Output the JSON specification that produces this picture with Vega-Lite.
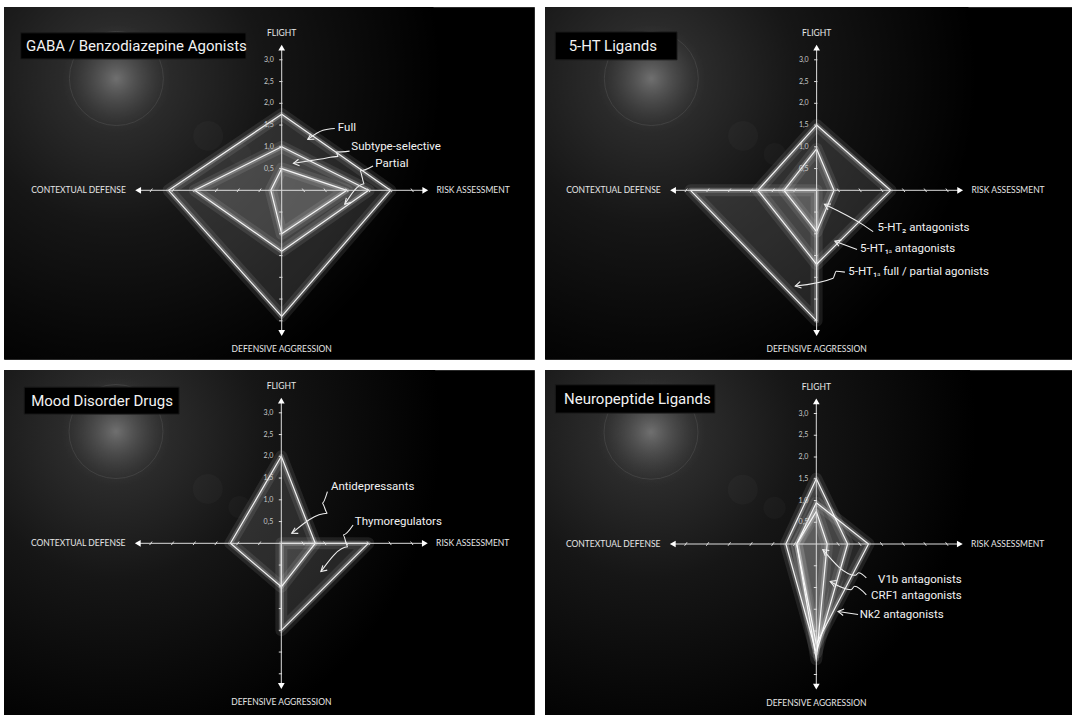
{
"$schema": "https://vega.github.io/schema/vega-lite/v6.json",
"background": "white",
"padding": {"left": 3, "top": 6, "right": 0, "bottom": 0},
"config": {"view": {"fill": "black", "stroke": "#2a2a2a", "strokeWidth": 1}, "axis": {"disable": true}},
"datasets": {
"polys": [
{"panel":"GABA","series":"Full","x":-2.6,"y":0,"y2":0},
{"panel":"GABA","series":"Full","x":0,"y":1.75,"y2":-2.9},
{"panel":"GABA","series":"Full","x":2.5,"y":0,"y2":0},
{"panel":"GABA","series":"Subtype-selective","x":-2.0,"y":0,"y2":0},
{"panel":"GABA","series":"Subtype-selective","x":0,"y":1.0,"y2":-1.4},
{"panel":"GABA","series":"Subtype-selective","x":2.0,"y":0,"y2":0},
{"panel":"GABA","series":"Partial","x":-0.25,"y":0,"y2":0},
{"panel":"GABA","series":"Partial","x":0,"y":0.5,"y2":-1.0},
{"panel":"GABA","series":"Partial","x":1.5,"y":0,"y2":0},
{"panel":"5HT","series":"5-HT1A full/partial agonists","x":-2.9,"y":0,"y2":0},
{"panel":"5HT","series":"5-HT1A full/partial agonists","x":0,"y":0,"y2":-3.0},
{"panel":"5HT","series":"5-HT1A antagonists","x":-1.35,"y":0,"y2":0},
{"panel":"5HT","series":"5-HT1A antagonists","x":0,"y":1.5,"y2":-1.7},
{"panel":"5HT","series":"5-HT1A antagonists","x":1.7,"y":0,"y2":0},
{"panel":"5HT","series":"5-HT2 antagonists","x":-0.75,"y":0,"y2":0},
{"panel":"5HT","series":"5-HT2 antagonists","x":0,"y":0.95,"y2":-0.95},
{"panel":"5HT","series":"5-HT2 antagonists","x":0.4,"y":0,"y2":0},
{"panel":"Mood","series":"Antidepressants","x":-1.17,"y":0,"y2":0},
{"panel":"Mood","series":"Antidepressants","x":0,"y":2.0,"y2":-1.0},
{"panel":"Mood","series":"Antidepressants","x":0.78,"y":0,"y2":0},
{"panel":"Mood","series":"Thymoregulators","x":0,"y":0,"y2":-2.0},
{"panel":"Mood","series":"Thymoregulators","x":2.0,"y":0,"y2":0},
{"panel":"Neuro","series":"CRF1","x":-0.7,"y":0,"y2":0},
{"panel":"Neuro","series":"CRF1","x":0,"y":1.5,"y2":-2.5},
{"panel":"Neuro","series":"CRF1","x":0.72,"y":0,"y2":0},
{"panel":"Neuro","series":"Nk2","x":-0.45,"y":0,"y2":0},
{"panel":"Neuro","series":"Nk2","x":0,"y":0.95,"y2":-2.3},
{"panel":"Neuro","series":"Nk2","x":1.2,"y":0,"y2":0},
{"panel":"Neuro","series":"V1b","x":-0.45,"y":0,"y2":0},
{"panel":"Neuro","series":"V1b","x":0,"y":0.75,"y2":-2.65},
{"panel":"Neuro","series":"V1b","x":0.25,"y":0,"y2":0}
],
"titles": [
{"panel":"GABA","title":"GABA / Benzodiazepine Agonists"},
{"panel":"5HT","title":"5-HT Ligands"},
{"panel":"Mood","title":"Mood Disorder Drugs"},
{"panel":"Neuro","title":"Neuropeptide Ligands"}
],
"notes": [
{"panel":"GABA","text":"Full","x":1.29,"y":1.43},
{"panel":"GABA","text":"Subtype-selective","x":1.6,"y":0.99},
{"panel":"GABA","text":"Partial","x":2.15,"y":0.6},
{"panel":"5HT","text":"5-HT₂ antagonists","x":1.4,"y":-0.86},
{"panel":"5HT","text":"5-HT₁ₐ antagonists","x":1.0,"y":-1.36},
{"panel":"5HT","text":"5-HT₁ₐ full / partial agonists","x":0.73,"y":-1.87},
{"panel":"Mood","text":"Antidepressants","x":1.14,"y":1.3},
{"panel":"Mood","text":"Thymoregulators","x":1.69,"y":0.5},
{"panel":"Neuro","text":"V1b antagonists","x":1.42,"y":-0.82},
{"panel":"Neuro","text":"CRF1 antagonists","x":1.26,"y":-1.2},
{"panel":"Neuro","text":"Nk2 antagonists","x":1.0,"y":-1.64}
],
"arrows": [
{"panel":"GABA","id":"a1","i":1,"x":1.22,"y":1.42},{"panel":"GABA","id":"a1","i":2,"x":0.95,"y":1.38},{"panel":"GABA","id":"a1","i":3,"x":0.6,"y":1.17},
{"panel":"GABA","id":"a2","i":1,"x":1.56,"y":0.9},{"panel":"GABA","id":"a2","i":2,"x":1.25,"y":0.88},{"panel":"GABA","id":"a2","i":3,"x":1.3,"y":0.78},{"panel":"GABA","id":"a2","i":4,"x":0.9,"y":0.72},{"panel":"GABA","id":"a2","i":5,"x":0.27,"y":0.62},
{"panel":"GABA","id":"a3","i":1,"x":2.1,"y":0.56},{"panel":"GABA","id":"a3","i":2,"x":1.8,"y":0.45},{"panel":"GABA","id":"a3","i":3,"x":1.9,"y":0.15},{"panel":"GABA","id":"a3","i":4,"x":1.45,"y":-0.32},
{"panel":"5HT","id":"b1","i":1,"x":1.3,"y":-0.95},{"panel":"5HT","id":"b1","i":2,"x":1.08,"y":-0.8},{"panel":"5HT","id":"b1","i":3,"x":0.18,"y":-0.32},
{"panel":"5HT","id":"b2","i":1,"x":0.93,"y":-1.36},{"panel":"5HT","id":"b2","i":2,"x":0.42,"y":-1.17},
{"panel":"5HT","id":"b3","i":1,"x":0.65,"y":-1.88},{"panel":"5HT","id":"b3","i":2,"x":0.45,"y":-1.86},{"panel":"5HT","id":"b3","i":3,"x":0.38,"y":-2.02},{"panel":"5HT","id":"b3","i":4,"x":-0.49,"y":-2.2},
{"panel":"Mood","id":"c1","i":1,"x":1.06,"y":1.19},{"panel":"Mood","id":"c1","i":2,"x":0.94,"y":0.92},{"panel":"Mood","id":"c1","i":3,"x":1.06,"y":0.69},{"panel":"Mood","id":"c1","i":4,"x":0.24,"y":0.23},
{"panel":"Mood","id":"c2","i":1,"x":1.65,"y":0.42},{"panel":"Mood","id":"c2","i":2,"x":1.42,"y":0.19},{"panel":"Mood","id":"c2","i":3,"x":1.53,"y":-0.08},{"panel":"Mood","id":"c2","i":4,"x":0.91,"y":-0.65},
{"panel":"Neuro","id":"d1","i":1,"x":1.15,"y":-0.78},{"panel":"Neuro","id":"d1","i":2,"x":0.97,"y":-0.66},{"panel":"Neuro","id":"d1","i":3,"x":0.9,"y":-0.72},{"panel":"Neuro","id":"d1","i":4,"x":0.15,"y":-0.13},
{"panel":"Neuro","id":"d2","i":1,"x":1.15,"y":-1.17},{"panel":"Neuro","id":"d2","i":2,"x":0.88,"y":-0.97},{"panel":"Neuro","id":"d2","i":3,"x":0.8,"y":-1.05},{"panel":"Neuro","id":"d2","i":4,"x":0.32,"y":-0.86},
{"panel":"Neuro","id":"d3","i":1,"x":0.96,"y":-1.62},{"panel":"Neuro","id":"d3","i":2,"x":0.5,"y":-1.55}
],
"heads": [
{"panel":"GABA","id":"a1","i":1,"x":0.673,"y":1.301},{"panel":"GABA","id":"a1","i":2,"x":0.6,"y":1.17},{"panel":"GABA","id":"a1","i":3,"x":0.75,"y":1.173},
{"panel":"GABA","id":"a2","i":1,"x":0.387,"y":0.715},{"panel":"GABA","id":"a2","i":2,"x":0.27,"y":0.62},{"panel":"GABA","id":"a2","i":3,"x":0.41,"y":0.566},
{"panel":"GABA","id":"a3","i":1,"x":1.486,"y":-0.174},{"panel":"GABA","id":"a3","i":2,"x":1.45,"y":-0.32},{"panel":"GABA","id":"a3","i":3,"x":1.594,"y":-0.278},
{"panel":"5HT","id":"b1","i":1,"x":0.33,"y":-0.315},{"panel":"5HT","id":"b1","i":2,"x":0.18,"y":-0.32},{"panel":"5HT","id":"b1","i":3,"x":0.259,"y":-0.447},
{"panel":"5HT","id":"b2","i":1,"x":0.568,"y":-1.145},{"panel":"5HT","id":"b2","i":2,"x":0.42,"y":-1.17},{"panel":"5HT","id":"b2","i":3,"x":0.515,"y":-1.286},
{"panel":"5HT","id":"b3","i":1,"x":-0.378,"y":-2.1},{"panel":"5HT","id":"b3","i":2,"x":-0.49,"y":-2.2},{"panel":"5HT","id":"b3","i":3,"x":-0.347,"y":-2.247},
{"panel":"Mood","id":"c1","i":1,"x":0.317,"y":0.359},{"panel":"Mood","id":"c1","i":2,"x":0.24,"y":0.23},{"panel":"Mood","id":"c1","i":3,"x":0.39,"y":0.228},
{"panel":"Mood","id":"c2","i":1,"x":0.955,"y":-0.507},{"panel":"Mood","id":"c2","i":2,"x":0.91,"y":-0.65},{"panel":"Mood","id":"c2","i":3,"x":1.056,"y":-0.617},
{"panel":"Neuro","id":"d1","i":1,"x":0.299,"y":-0.151},{"panel":"Neuro","id":"d1","i":2,"x":0.15,"y":-0.13},{"panel":"Neuro","id":"d1","i":3,"x":0.206,"y":-0.269},
{"panel":"Neuro","id":"d2","i":1,"x":0.468,"y":-0.838},{"panel":"Neuro","id":"d2","i":2,"x":0.32,"y":-0.86},{"panel":"Neuro","id":"d2","i":3,"x":0.413,"y":-0.978},
{"panel":"Neuro","id":"d3","i":1,"x":0.64,"y":-1.495},{"panel":"Neuro","id":"d3","i":2,"x":0.5,"y":-1.55},{"panel":"Neuro","id":"d3","i":3,"x":0.617,"y":-1.644}
],
"hticks": [{"x":-3},{"x":-2.5},{"x":-2},{"x":-1.5},{"x":-1},{"x":-0.5},{"x":0.5},{"x":1},{"x":1.5},{"x":2},{"x":2.5},{"x":3}],
"vticks": [{"y":3},{"y":2.5},{"y":2},{"y":1.5},{"y":1},{"y":0.5},{"y":-0.5},{"y":-1},{"y":-1.5},{"y":-2},{"y":-2.5},{"y":-3}],
"vlabels": [{"y":3,"t":"3,0"},{"y":2.5,"t":"2,5"},{"y":2,"t":"2,0"},{"y":1.5,"t":"1,5"},{"y":1,"t":"1,0"},{"y":0.5,"t":"0,5"}],
"axarrows": [{"dir":"up","x":0,"y":3.28},{"dir":"down","x":0,"y":-3.28},{"dir":"left","x":-3.3,"y":0},{"dir":"right","x":3.3,"y":0}],
"axlabels": [{"label":"FLIGHT","x":0,"y":3.62},{"label":"DEFENSIVE AGGRESSION","x":0,"y":-3.65},{"label":"CONTEXTUAL DEFENSE","x":-4.67,"y":0},{"label":"RISK ASSESSMENT","x":4.4,"y":0}]
},
"vconcat": [
{"hconcat": [
{"width": 530, "height": 352, "layer": [
{"data":{"values":[{}]},"mark":{"type":"point","shape":"circle","size":422500,"filled":true,"opacity":1,"strokeWidth":0,"clip":true,"fill":{"gradient":"radial","stops":[{"offset":0,"color":"#363636"},{"offset":0.45,"color":"#161616"},{"offset":1,"color":"#000000"}]}},"encoding":{"x":{"datum":-3.8,"type":"quantitative","scale":{"domain":[-6.384,5.8],"nice":false,"zero":false},"axis":null},"y":{"datum":2.57,"type":"quantitative","scale":{"domain":[-3.878,4.214],"nice":false,"zero":false},"axis":null}}},
{"data":{"values":[{}]},"mark":{"type":"point","shape":"circle","size":12000,"filled":true,"opacity":1,"strokeWidth":0,"fill":{"gradient":"radial","stops":[{"offset":0,"color":"rgba(115,115,115,0.95)"},{"offset":0.55,"color":"rgba(85,85,85,0.45)"},{"offset":1,"color":"rgba(60,60,60,0)"}]}},"encoding":{"x":{"datum":-3.8},"y":{"datum":2.57}}},
{"data":{"values":[{}]},"mark":{"type":"point","shape":"circle","size":8836,"filled":false,"stroke":"#6a6a6a","strokeWidth":1,"opacity":0.3},"encoding":{"x":{"datum":-3.8},"y":{"datum":2.57}}},
{"data":{"values":[{}]},"mark":{"type":"point","shape":"circle","size":900,"filled":true,"color":"#ffffff","opacity":0.025},"encoding":{"x":{"datum":-1.69},"y":{"datum":1.25}}},
{"data":{"values":[{}]},"mark":{"type":"point","shape":"circle","size":500,"filled":true,"color":"#ffffff","opacity":0.025},"encoding":{"x":{"datum":-0.96},"y":{"datum":0.83}}},
{"data":{"values":[{}]},"mark":{"type":"rect","fill":"#000000","stroke":"#1a1a1a"},"encoding":{"x":{"datum":-6.0},"x2":{"datum":-0.82},"y":{"datum":3.62},"y2":{"datum":3.02}}},
{"data":{"name":"titles"},"transform":[{"filter":"datum.panel==='GABA'"}],"mark":{"type":"text","align":"left","baseline":"middle","font":"Roboto","fontSize":15,"color":"#f2f2f2"},"encoding":{"x":{"datum":-5.88},"y":{"datum":3.32},"text":{"field":"title"}}},
{"data":{"name":"polys"},"transform":[{"filter":"datum.panel==='GABA'"}],"mark":{"type":"area","interpolate":"linear","fill":"#ffffff","fillOpacity":0.12,"stroke":"#ffffff","strokeOpacity":0.09,"strokeWidth":12,"strokeJoin":"round"},"encoding":{"x":{"field":"x","type":"quantitative"},"y":{"field":"y","type":"quantitative","stack":null},"y2":{"field":"y2"},"detail":{"field":"series"}}},
{"data":{"name":"polys"},"transform":[{"filter":"datum.panel==='GABA'"}],"mark":{"type":"area","interpolate":"linear","fillOpacity":0,"stroke":"#ffffff","strokeOpacity":0.22,"strokeWidth":5,"strokeJoin":"round"},"encoding":{"x":{"field":"x","type":"quantitative"},"y":{"field":"y","type":"quantitative","stack":null},"y2":{"field":"y2"},"detail":{"field":"series"}}},
{"data":{"name":"polys"},"transform":[{"filter":"datum.panel==='GABA'"}],"mark":{"type":"area","interpolate":"linear","fillOpacity":0,"stroke":"#ffffff","strokeOpacity":0.92,"strokeWidth":1.2,"strokeJoin":"round"},"encoding":{"x":{"field":"x","type":"quantitative"},"y":{"field":"y","type":"quantitative","stack":null},"y2":{"field":"y2"},"detail":{"field":"series"}}},
{"data":{"values":[{}]},"mark":{"type":"rule","color":"#dddddd","strokeWidth":1},"encoding":{"x":{"datum":-3.3},"x2":{"datum":3.3},"y":{"datum":0}}},
{"data":{"values":[{}]},"mark":{"type":"rule","color":"#dddddd","strokeWidth":1},"encoding":{"y":{"datum":-3.3},"y2":{"datum":3.3},"x":{"datum":0}}},
{"data":{"name":"hticks"},"transform":[{"filter":"datum.x<0"}],"mark":{"type":"point","shape":"M-0.35,0.5L0.35,-0.5","size":49,"filled":false,"stroke":"#dddddd","strokeWidth":1,"opacity":1},"encoding":{"x":{"field":"x","type":"quantitative"},"y":{"datum":0}}},
{"data":{"name":"hticks"},"transform":[{"filter":"datum.x>0"}],"mark":{"type":"point","shape":"M-0.35,-0.5L0.35,0.5","size":49,"filled":false,"stroke":"#dddddd","strokeWidth":1,"opacity":1},"encoding":{"x":{"field":"x","type":"quantitative"},"y":{"datum":0}}},
{"data":{"name":"vticks"},"mark":{"type":"point","shape":"M-1,0L0.3,0","size":25,"filled":false,"stroke":"#dddddd","strokeWidth":1,"opacity":1},"encoding":{"y":{"field":"y","type":"quantitative"},"x":{"datum":0}}},
{"data":{"name":"vlabels"},"mark":{"type":"text","align":"right","baseline":"middle","dx":-8,"font":"Lato","fontSize":7,"color":"#c8c8c8"},"encoding":{"y":{"field":"y","type":"quantitative"},"x":{"datum":0},"text":{"field":"t"}}},
{"data":{"name":"axarrows"},"mark":{"type":"point","filled":true,"size":45,"color":"#ffffff","opacity":1},"encoding":{"x":{"field":"x","type":"quantitative"},"y":{"field":"y","type":"quantitative"},"shape":{"field":"dir","scale":{"domain":["up","down","left","right"],"range":["triangle-up","triangle-down","triangle-left","triangle-right"]},"legend":null}}},
{"data":{"name":"axlabels"},"mark":{"type":"text","align":"center","baseline":"middle","font":"Lato","fontSize":8.5,"color":"#e6e6e6"},"encoding":{"x":{"field":"x","type":"quantitative"},"y":{"field":"y","type":"quantitative"},"text":{"field":"label"}}},
{"data":{"name":"arrows"},"transform":[{"filter":"datum.panel==='GABA'"}],"mark":{"type":"line","color":"#eeeeee","strokeWidth":1.1,"interpolate":"monotone"},"encoding":{"x":{"field":"x","type":"quantitative"},"y":{"field":"y","type":"quantitative"},"detail":{"field":"id"},"order":{"field":"i"}}},
{"data":{"name":"heads"},"transform":[{"filter":"datum.panel==='GABA'"}],"mark":{"type":"line","color":"#eeeeee","strokeWidth":1.1,"interpolate":"linear"},"encoding":{"x":{"field":"x","type":"quantitative"},"y":{"field":"y","type":"quantitative"},"detail":{"field":"id"},"order":{"field":"i"}}},
{"data":{"name":"notes"},"transform":[{"filter":"datum.panel==='GABA'"}],"mark":{"type":"text","align":"left","baseline":"middle","font":"Roboto","fontSize":11.5,"color":"#f2f2f2"},"encoding":{"x":{"field":"x","type":"quantitative"},"y":{"field":"y","type":"quantitative"},"text":{"field":"text"}}}
]},
{"width": 530, "height": 352, "layer": [
{"data":{"values":[{}]},"mark":{"type":"point","shape":"circle","size":422500,"filled":true,"opacity":1,"strokeWidth":0,"clip":true,"fill":{"gradient":"radial","stops":[{"offset":0,"color":"#363636"},{"offset":0.45,"color":"#161616"},{"offset":1,"color":"#000000"}]}},"encoding":{"x":{"datum":-3.8,"type":"quantitative","scale":{"domain":[-6.244,5.94],"nice":false,"zero":false},"axis":null},"y":{"datum":2.57,"type":"quantitative","scale":{"domain":[-3.878,4.214],"nice":false,"zero":false},"axis":null}}},
{"data":{"values":[{}]},"mark":{"type":"point","shape":"circle","size":12000,"filled":true,"opacity":1,"strokeWidth":0,"fill":{"gradient":"radial","stops":[{"offset":0,"color":"rgba(115,115,115,0.95)"},{"offset":0.55,"color":"rgba(85,85,85,0.45)"},{"offset":1,"color":"rgba(60,60,60,0)"}]}},"encoding":{"x":{"datum":-3.8},"y":{"datum":2.57}}},
{"data":{"values":[{}]},"mark":{"type":"point","shape":"circle","size":8836,"filled":false,"stroke":"#6a6a6a","strokeWidth":1,"opacity":0.3},"encoding":{"x":{"datum":-3.8},"y":{"datum":2.57}}},
{"data":{"values":[{}]},"mark":{"type":"point","shape":"circle","size":900,"filled":true,"color":"#ffffff","opacity":0.025},"encoding":{"x":{"datum":-1.69},"y":{"datum":1.25}}},
{"data":{"values":[{}]},"mark":{"type":"point","shape":"circle","size":500,"filled":true,"color":"#ffffff","opacity":0.025},"encoding":{"x":{"datum":-0.96},"y":{"datum":0.83}}},
{"data":{"values":[{}]},"mark":{"type":"rect","fill":"#000000","stroke":"#1a1a1a"},"encoding":{"x":{"datum":-6.01},"x2":{"datum":-3.21},"y":{"datum":3.64},"y2":{"datum":3.0}}},
{"data":{"name":"titles"},"transform":[{"filter":"datum.panel==='5HT'"}],"mark":{"type":"text","align":"left","baseline":"middle","font":"Roboto","fontSize":15,"color":"#f2f2f2"},"encoding":{"x":{"datum":-5.7},"y":{"datum":3.32},"text":{"field":"title"}}},
{"data":{"name":"polys"},"transform":[{"filter":"datum.panel==='5HT'"}],"mark":{"type":"area","interpolate":"linear","fill":"#ffffff","fillOpacity":0.12,"stroke":"#ffffff","strokeOpacity":0.09,"strokeWidth":12,"strokeJoin":"round"},"encoding":{"x":{"field":"x","type":"quantitative"},"y":{"field":"y","type":"quantitative","stack":null},"y2":{"field":"y2"},"detail":{"field":"series"}}},
{"data":{"name":"polys"},"transform":[{"filter":"datum.panel==='5HT'"}],"mark":{"type":"area","interpolate":"linear","fillOpacity":0,"stroke":"#ffffff","strokeOpacity":0.22,"strokeWidth":5,"strokeJoin":"round"},"encoding":{"x":{"field":"x","type":"quantitative"},"y":{"field":"y","type":"quantitative","stack":null},"y2":{"field":"y2"},"detail":{"field":"series"}}},
{"data":{"name":"polys"},"transform":[{"filter":"datum.panel==='5HT'"}],"mark":{"type":"area","interpolate":"linear","fillOpacity":0,"stroke":"#ffffff","strokeOpacity":0.92,"strokeWidth":1.2,"strokeJoin":"round"},"encoding":{"x":{"field":"x","type":"quantitative"},"y":{"field":"y","type":"quantitative","stack":null},"y2":{"field":"y2"},"detail":{"field":"series"}}},
{"data":{"values":[{}]},"mark":{"type":"rule","color":"#dddddd","strokeWidth":1},"encoding":{"x":{"datum":-3.3},"x2":{"datum":3.3},"y":{"datum":0}}},
{"data":{"values":[{}]},"mark":{"type":"rule","color":"#dddddd","strokeWidth":1},"encoding":{"y":{"datum":-3.3},"y2":{"datum":3.3},"x":{"datum":0}}},
{"data":{"name":"hticks"},"transform":[{"filter":"datum.x<0"}],"mark":{"type":"point","shape":"M-0.35,0.5L0.35,-0.5","size":49,"filled":false,"stroke":"#dddddd","strokeWidth":1,"opacity":1},"encoding":{"x":{"field":"x","type":"quantitative"},"y":{"datum":0}}},
{"data":{"name":"hticks"},"transform":[{"filter":"datum.x>0"}],"mark":{"type":"point","shape":"M-0.35,-0.5L0.35,0.5","size":49,"filled":false,"stroke":"#dddddd","strokeWidth":1,"opacity":1},"encoding":{"x":{"field":"x","type":"quantitative"},"y":{"datum":0}}},
{"data":{"name":"vticks"},"mark":{"type":"point","shape":"M-1,0L0.3,0","size":25,"filled":false,"stroke":"#dddddd","strokeWidth":1,"opacity":1},"encoding":{"y":{"field":"y","type":"quantitative"},"x":{"datum":0}}},
{"data":{"name":"vlabels"},"mark":{"type":"text","align":"right","baseline":"middle","dx":-8,"font":"Lato","fontSize":7,"color":"#c8c8c8"},"encoding":{"y":{"field":"y","type":"quantitative"},"x":{"datum":0},"text":{"field":"t"}}},
{"data":{"name":"axarrows"},"mark":{"type":"point","filled":true,"size":45,"color":"#ffffff","opacity":1},"encoding":{"x":{"field":"x","type":"quantitative"},"y":{"field":"y","type":"quantitative"},"shape":{"field":"dir","scale":{"domain":["up","down","left","right"],"range":["triangle-up","triangle-down","triangle-left","triangle-right"]},"legend":null}}},
{"data":{"name":"axlabels"},"mark":{"type":"text","align":"center","baseline":"middle","font":"Lato","fontSize":8.5,"color":"#e6e6e6"},"encoding":{"x":{"field":"x","type":"quantitative"},"y":{"field":"y","type":"quantitative"},"text":{"field":"label"}}},
{"data":{"name":"arrows"},"transform":[{"filter":"datum.panel==='5HT'"}],"mark":{"type":"line","color":"#eeeeee","strokeWidth":1.1,"interpolate":"monotone"},"encoding":{"x":{"field":"x","type":"quantitative"},"y":{"field":"y","type":"quantitative"},"detail":{"field":"id"},"order":{"field":"i"}}},
{"data":{"name":"heads"},"transform":[{"filter":"datum.panel==='5HT'"}],"mark":{"type":"line","color":"#eeeeee","strokeWidth":1.1,"interpolate":"linear"},"encoding":{"x":{"field":"x","type":"quantitative"},"y":{"field":"y","type":"quantitative"},"detail":{"field":"id"},"order":{"field":"i"}}},
{"data":{"name":"notes"},"transform":[{"filter":"datum.panel==='5HT'"}],"mark":{"type":"text","align":"left","baseline":"middle","font":"Roboto","fontSize":11.5,"color":"#f2f2f2"},"encoding":{"x":{"field":"x","type":"quantitative"},"y":{"field":"y","type":"quantitative"},"text":{"field":"text"}}}
]}
], "spacing": 9},
{"hconcat": [
{"width": 530, "height": 348, "layer": [
{"data":{"values":[{}]},"mark":{"type":"point","shape":"circle","size":422500,"filled":true,"opacity":1,"strokeWidth":0,"clip":true,"fill":{"gradient":"radial","stops":[{"offset":0,"color":"#363636"},{"offset":0.45,"color":"#161616"},{"offset":1,"color":"#000000"}]}},"encoding":{"x":{"datum":-3.8,"type":"quantitative","scale":{"domain":[-6.375,5.809],"nice":false,"zero":false},"axis":null},"y":{"datum":2.57,"type":"quantitative","scale":{"domain":[-4.016,3.984],"nice":false,"zero":false},"axis":null}}},
{"data":{"values":[{}]},"mark":{"type":"point","shape":"circle","size":12000,"filled":true,"opacity":1,"strokeWidth":0,"fill":{"gradient":"radial","stops":[{"offset":0,"color":"rgba(115,115,115,0.95)"},{"offset":0.55,"color":"rgba(85,85,85,0.45)"},{"offset":1,"color":"rgba(60,60,60,0)"}]}},"encoding":{"x":{"datum":-3.8},"y":{"datum":2.57}}},
{"data":{"values":[{}]},"mark":{"type":"point","shape":"circle","size":8836,"filled":false,"stroke":"#6a6a6a","strokeWidth":1,"opacity":0.3},"encoding":{"x":{"datum":-3.8},"y":{"datum":2.57}}},
{"data":{"values":[{}]},"mark":{"type":"point","shape":"circle","size":900,"filled":true,"color":"#ffffff","opacity":0.025},"encoding":{"x":{"datum":-1.69},"y":{"datum":1.25}}},
{"data":{"values":[{}]},"mark":{"type":"point","shape":"circle","size":500,"filled":true,"color":"#ffffff","opacity":0.025},"encoding":{"x":{"datum":-0.96},"y":{"datum":0.83}}},
{"data":{"values":[{}]},"mark":{"type":"rect","fill":"#000000","stroke":"#1a1a1a"},"encoding":{"x":{"datum":-5.91},"x2":{"datum":-2.35},"y":{"datum":3.59},"y2":{"datum":2.97}}},
{"data":{"name":"titles"},"transform":[{"filter":"datum.panel==='Mood'"}],"mark":{"type":"text","align":"left","baseline":"middle","font":"Roboto","fontSize":15,"color":"#f2f2f2"},"encoding":{"x":{"datum":-5.75},"y":{"datum":3.28},"text":{"field":"title"}}},
{"data":{"name":"polys"},"transform":[{"filter":"datum.panel==='Mood'"}],"mark":{"type":"area","interpolate":"linear","fill":"#ffffff","fillOpacity":0.12,"stroke":"#ffffff","strokeOpacity":0.09,"strokeWidth":12,"strokeJoin":"round"},"encoding":{"x":{"field":"x","type":"quantitative"},"y":{"field":"y","type":"quantitative","stack":null},"y2":{"field":"y2"},"detail":{"field":"series"}}},
{"data":{"name":"polys"},"transform":[{"filter":"datum.panel==='Mood'"}],"mark":{"type":"area","interpolate":"linear","fillOpacity":0,"stroke":"#ffffff","strokeOpacity":0.22,"strokeWidth":5,"strokeJoin":"round"},"encoding":{"x":{"field":"x","type":"quantitative"},"y":{"field":"y","type":"quantitative","stack":null},"y2":{"field":"y2"},"detail":{"field":"series"}}},
{"data":{"name":"polys"},"transform":[{"filter":"datum.panel==='Mood'"}],"mark":{"type":"area","interpolate":"linear","fillOpacity":0,"stroke":"#ffffff","strokeOpacity":0.92,"strokeWidth":1.2,"strokeJoin":"round"},"encoding":{"x":{"field":"x","type":"quantitative"},"y":{"field":"y","type":"quantitative","stack":null},"y2":{"field":"y2"},"detail":{"field":"series"}}},
{"data":{"values":[{}]},"mark":{"type":"rule","color":"#dddddd","strokeWidth":1},"encoding":{"x":{"datum":-3.3},"x2":{"datum":3.3},"y":{"datum":0}}},
{"data":{"values":[{}]},"mark":{"type":"rule","color":"#dddddd","strokeWidth":1},"encoding":{"y":{"datum":-3.3},"y2":{"datum":3.3},"x":{"datum":0}}},
{"data":{"name":"hticks"},"transform":[{"filter":"datum.x<0"}],"mark":{"type":"point","shape":"M-0.35,0.5L0.35,-0.5","size":49,"filled":false,"stroke":"#dddddd","strokeWidth":1,"opacity":1},"encoding":{"x":{"field":"x","type":"quantitative"},"y":{"datum":0}}},
{"data":{"name":"hticks"},"transform":[{"filter":"datum.x>0"}],"mark":{"type":"point","shape":"M-0.35,-0.5L0.35,0.5","size":49,"filled":false,"stroke":"#dddddd","strokeWidth":1,"opacity":1},"encoding":{"x":{"field":"x","type":"quantitative"},"y":{"datum":0}}},
{"data":{"name":"vticks"},"mark":{"type":"point","shape":"M-1,0L0.3,0","size":25,"filled":false,"stroke":"#dddddd","strokeWidth":1,"opacity":1},"encoding":{"y":{"field":"y","type":"quantitative"},"x":{"datum":0}}},
{"data":{"name":"vlabels"},"mark":{"type":"text","align":"right","baseline":"middle","dx":-8,"font":"Lato","fontSize":7,"color":"#c8c8c8"},"encoding":{"y":{"field":"y","type":"quantitative"},"x":{"datum":0},"text":{"field":"t"}}},
{"data":{"name":"axarrows"},"mark":{"type":"point","filled":true,"size":45,"color":"#ffffff","opacity":1},"encoding":{"x":{"field":"x","type":"quantitative"},"y":{"field":"y","type":"quantitative"},"shape":{"field":"dir","scale":{"domain":["up","down","left","right"],"range":["triangle-up","triangle-down","triangle-left","triangle-right"]},"legend":null}}},
{"data":{"name":"axlabels"},"mark":{"type":"text","align":"center","baseline":"middle","font":"Lato","fontSize":8.5,"color":"#e6e6e6"},"encoding":{"x":{"field":"x","type":"quantitative"},"y":{"field":"y","type":"quantitative"},"text":{"field":"label"}}},
{"data":{"name":"arrows"},"transform":[{"filter":"datum.panel==='Mood'"}],"mark":{"type":"line","color":"#eeeeee","strokeWidth":1.1,"interpolate":"monotone"},"encoding":{"x":{"field":"x","type":"quantitative"},"y":{"field":"y","type":"quantitative"},"detail":{"field":"id"},"order":{"field":"i"}}},
{"data":{"name":"heads"},"transform":[{"filter":"datum.panel==='Mood'"}],"mark":{"type":"line","color":"#eeeeee","strokeWidth":1.1,"interpolate":"linear"},"encoding":{"x":{"field":"x","type":"quantitative"},"y":{"field":"y","type":"quantitative"},"detail":{"field":"id"},"order":{"field":"i"}}},
{"data":{"name":"notes"},"transform":[{"filter":"datum.panel==='Mood'"}],"mark":{"type":"text","align":"left","baseline":"middle","font":"Roboto","fontSize":11.5,"color":"#f2f2f2"},"encoding":{"x":{"field":"x","type":"quantitative"},"y":{"field":"y","type":"quantitative"},"text":{"field":"text"}}}
]},
{"width": 530, "height": 348, "layer": [
{"data":{"values":[{}]},"mark":{"type":"point","shape":"circle","size":422500,"filled":true,"opacity":1,"strokeWidth":0,"clip":true,"fill":{"gradient":"radial","stops":[{"offset":0,"color":"#363636"},{"offset":0.45,"color":"#161616"},{"offset":1,"color":"#000000"}]}},"encoding":{"x":{"datum":-3.8,"type":"quantitative","scale":{"domain":[-6.237,5.947],"nice":false,"zero":false},"axis":null},"y":{"datum":2.57,"type":"quantitative","scale":{"domain":[-4.0,4.0],"nice":false,"zero":false},"axis":null}}},
{"data":{"values":[{}]},"mark":{"type":"point","shape":"circle","size":12000,"filled":true,"opacity":1,"strokeWidth":0,"fill":{"gradient":"radial","stops":[{"offset":0,"color":"rgba(115,115,115,0.95)"},{"offset":0.55,"color":"rgba(85,85,85,0.45)"},{"offset":1,"color":"rgba(60,60,60,0)"}]}},"encoding":{"x":{"datum":-3.8},"y":{"datum":2.57}}},
{"data":{"values":[{}]},"mark":{"type":"point","shape":"circle","size":8836,"filled":false,"stroke":"#6a6a6a","strokeWidth":1,"opacity":0.3},"encoding":{"x":{"datum":-3.8},"y":{"datum":2.57}}},
{"data":{"values":[{}]},"mark":{"type":"point","shape":"circle","size":900,"filled":true,"color":"#ffffff","opacity":0.025},"encoding":{"x":{"datum":-1.69},"y":{"datum":1.25}}},
{"data":{"values":[{}]},"mark":{"type":"point","shape":"circle","size":500,"filled":true,"color":"#ffffff","opacity":0.025},"encoding":{"x":{"datum":-0.96},"y":{"datum":0.83}}},
{"data":{"values":[{}]},"mark":{"type":"rect","fill":"#000000","stroke":"#1a1a1a"},"encoding":{"x":{"datum":-6.0},"x2":{"datum":-2.33},"y":{"datum":3.66},"y2":{"datum":3.01}}},
{"data":{"name":"titles"},"transform":[{"filter":"datum.panel==='Neuro'"}],"mark":{"type":"text","align":"left","baseline":"middle","font":"Roboto","fontSize":15,"color":"#f2f2f2"},"encoding":{"x":{"datum":-5.8},"y":{"datum":3.33},"text":{"field":"title"}}},
{"data":{"name":"polys"},"transform":[{"filter":"datum.panel==='Neuro'"}],"mark":{"type":"area","interpolate":"linear","fill":"#ffffff","fillOpacity":0.12,"stroke":"#ffffff","strokeOpacity":0.09,"strokeWidth":12,"strokeJoin":"round"},"encoding":{"x":{"field":"x","type":"quantitative"},"y":{"field":"y","type":"quantitative","stack":null},"y2":{"field":"y2"},"detail":{"field":"series"}}},
{"data":{"name":"polys"},"transform":[{"filter":"datum.panel==='Neuro'"}],"mark":{"type":"area","interpolate":"linear","fillOpacity":0,"stroke":"#ffffff","strokeOpacity":0.22,"strokeWidth":5,"strokeJoin":"round"},"encoding":{"x":{"field":"x","type":"quantitative"},"y":{"field":"y","type":"quantitative","stack":null},"y2":{"field":"y2"},"detail":{"field":"series"}}},
{"data":{"name":"polys"},"transform":[{"filter":"datum.panel==='Neuro'"}],"mark":{"type":"area","interpolate":"linear","fillOpacity":0,"stroke":"#ffffff","strokeOpacity":0.92,"strokeWidth":1.2,"strokeJoin":"round"},"encoding":{"x":{"field":"x","type":"quantitative"},"y":{"field":"y","type":"quantitative","stack":null},"y2":{"field":"y2"},"detail":{"field":"series"}}},
{"data":{"values":[{}]},"mark":{"type":"rule","color":"#dddddd","strokeWidth":1},"encoding":{"x":{"datum":-3.3},"x2":{"datum":3.3},"y":{"datum":0}}},
{"data":{"values":[{}]},"mark":{"type":"rule","color":"#dddddd","strokeWidth":1},"encoding":{"y":{"datum":-3.3},"y2":{"datum":3.3},"x":{"datum":0}}},
{"data":{"name":"hticks"},"transform":[{"filter":"datum.x<0"}],"mark":{"type":"point","shape":"M-0.35,0.5L0.35,-0.5","size":49,"filled":false,"stroke":"#dddddd","strokeWidth":1,"opacity":1},"encoding":{"x":{"field":"x","type":"quantitative"},"y":{"datum":0}}},
{"data":{"name":"hticks"},"transform":[{"filter":"datum.x>0"}],"mark":{"type":"point","shape":"M-0.35,-0.5L0.35,0.5","size":49,"filled":false,"stroke":"#dddddd","strokeWidth":1,"opacity":1},"encoding":{"x":{"field":"x","type":"quantitative"},"y":{"datum":0}}},
{"data":{"name":"vticks"},"mark":{"type":"point","shape":"M-1,0L0.3,0","size":25,"filled":false,"stroke":"#dddddd","strokeWidth":1,"opacity":1},"encoding":{"y":{"field":"y","type":"quantitative"},"x":{"datum":0}}},
{"data":{"name":"vlabels"},"mark":{"type":"text","align":"right","baseline":"middle","dx":-8,"font":"Lato","fontSize":7,"color":"#c8c8c8"},"encoding":{"y":{"field":"y","type":"quantitative"},"x":{"datum":0},"text":{"field":"t"}}},
{"data":{"name":"axarrows"},"mark":{"type":"point","filled":true,"size":45,"color":"#ffffff","opacity":1},"encoding":{"x":{"field":"x","type":"quantitative"},"y":{"field":"y","type":"quantitative"},"shape":{"field":"dir","scale":{"domain":["up","down","left","right"],"range":["triangle-up","triangle-down","triangle-left","triangle-right"]},"legend":null}}},
{"data":{"name":"axlabels"},"mark":{"type":"text","align":"center","baseline":"middle","font":"Lato","fontSize":8.5,"color":"#e6e6e6"},"encoding":{"x":{"field":"x","type":"quantitative"},"y":{"field":"y","type":"quantitative"},"text":{"field":"label"}}},
{"data":{"name":"arrows"},"transform":[{"filter":"datum.panel==='Neuro'"}],"mark":{"type":"line","color":"#eeeeee","strokeWidth":1.1,"interpolate":"monotone"},"encoding":{"x":{"field":"x","type":"quantitative"},"y":{"field":"y","type":"quantitative"},"detail":{"field":"id"},"order":{"field":"i"}}},
{"data":{"name":"heads"},"transform":[{"filter":"datum.panel==='Neuro'"}],"mark":{"type":"line","color":"#eeeeee","strokeWidth":1.1,"interpolate":"linear"},"encoding":{"x":{"field":"x","type":"quantitative"},"y":{"field":"y","type":"quantitative"},"detail":{"field":"id"},"order":{"field":"i"}}},
{"data":{"name":"notes"},"transform":[{"filter":"datum.panel==='Neuro'"}],"mark":{"type":"text","align":"left","baseline":"middle","font":"Roboto","fontSize":11.5,"color":"#f2f2f2"},"encoding":{"x":{"field":"x","type":"quantitative"},"y":{"field":"y","type":"quantitative"},"text":{"field":"text"}}}
]}
], "spacing": 9}
], "spacing": 9
}
